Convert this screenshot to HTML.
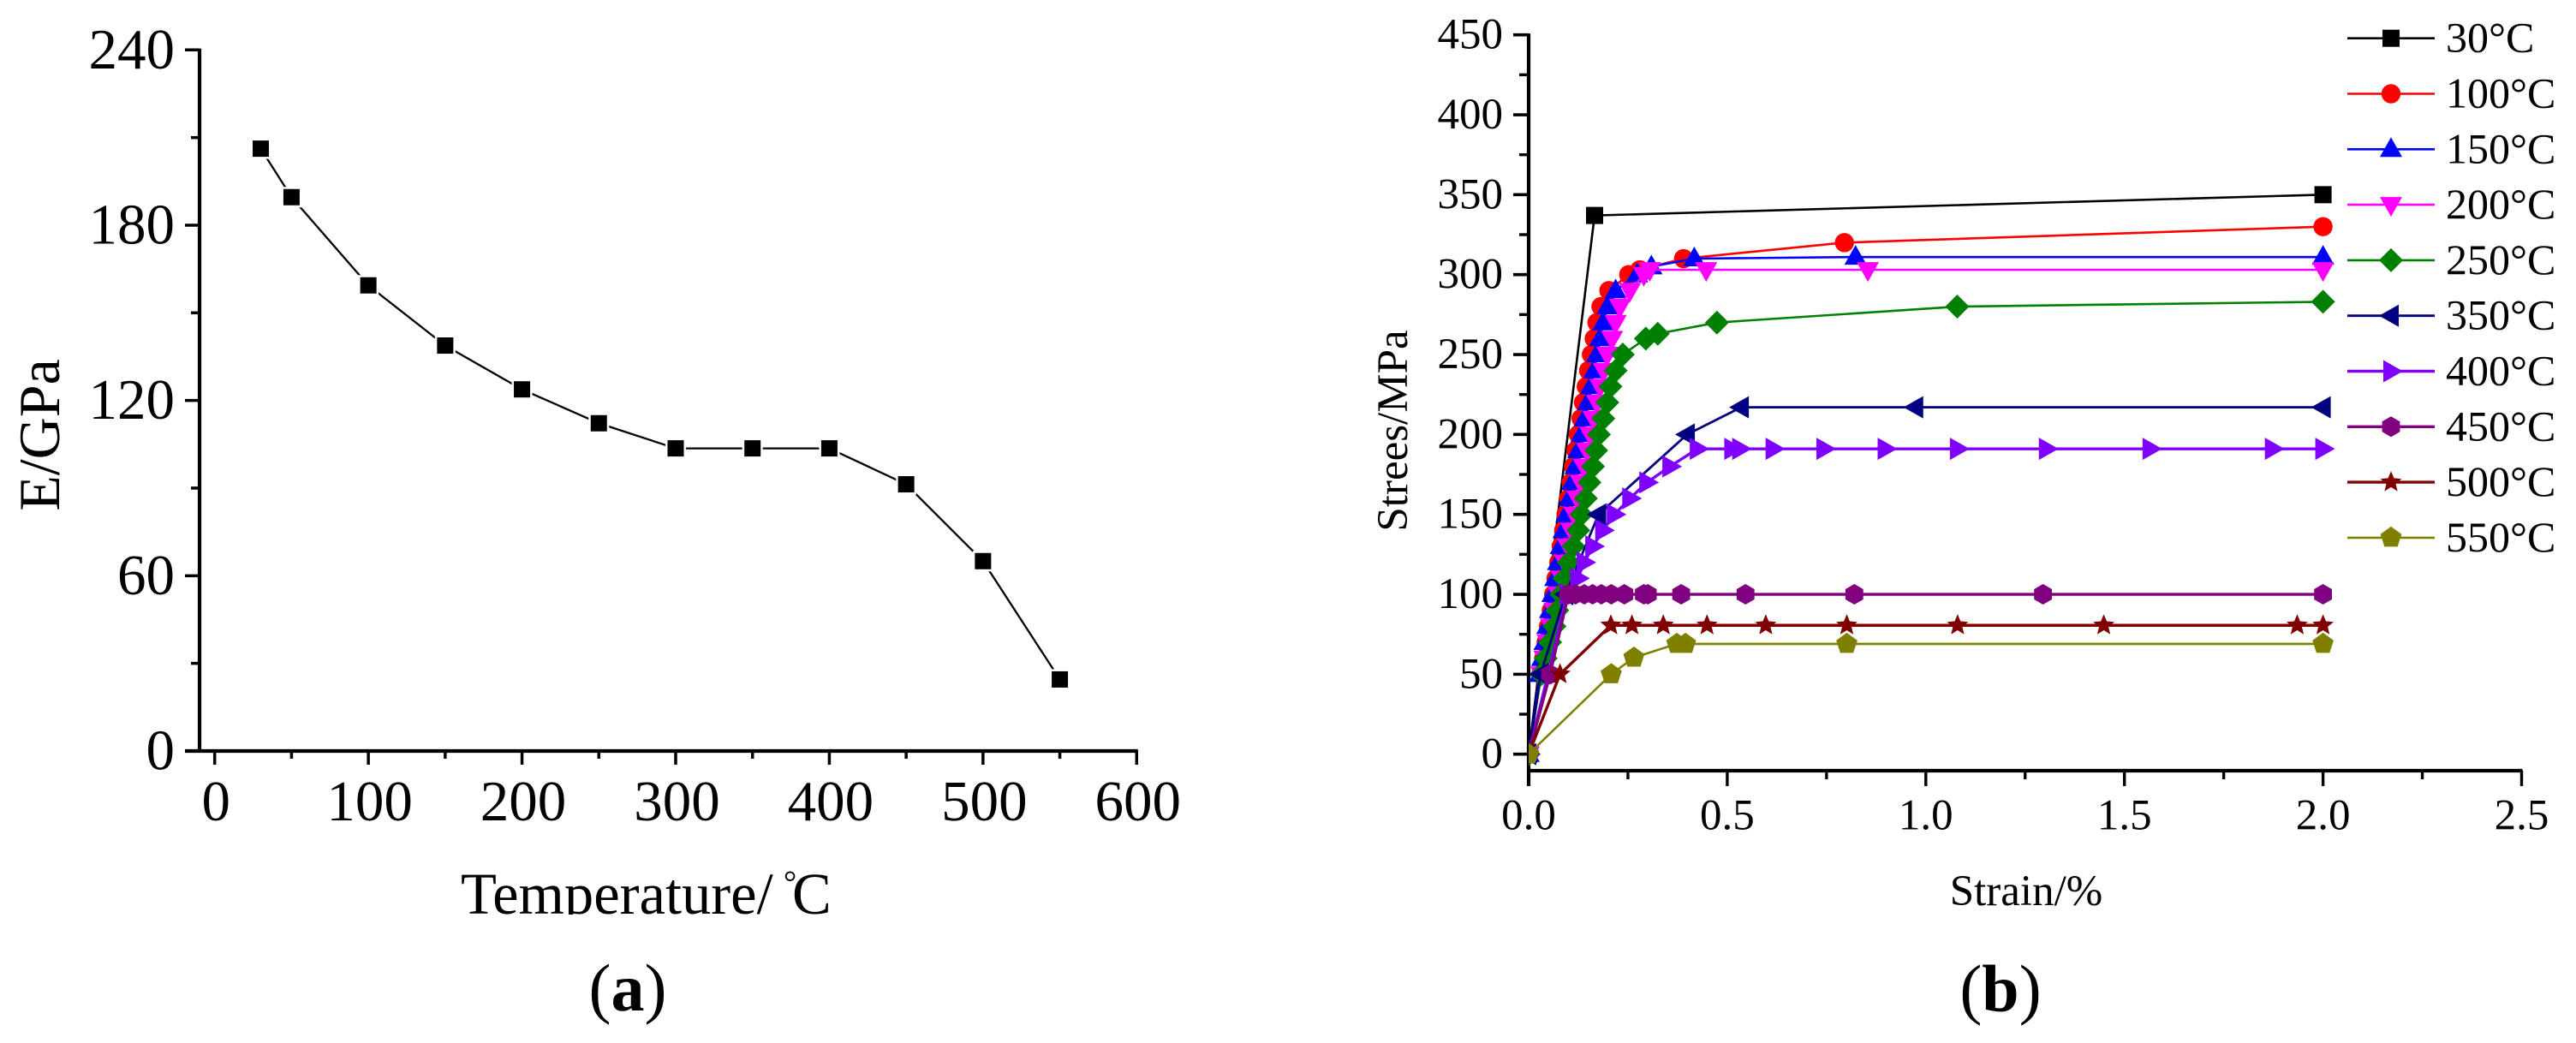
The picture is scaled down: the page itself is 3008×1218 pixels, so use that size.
<!DOCTYPE html>
<html lang="en">
<head>
<meta charset="utf-8">
<title>Elastic modulus and stress-strain curves</title>
<style>
html,body{margin:0;padding:0;background:#fff;}
svg{display:block;}
text{font-family:"Liberation Serif","Noto Serif CJK SC",serif;fill:#000;}
</style>
</head>
<body>
<svg id="fig" xmlns="http://www.w3.org/2000/svg" width="3008" height="1218" viewBox="0 0 3008 1218">
  <defs>
    <clipPath id="clip-title"><rect x="500" y="1000" width="520" height="68"/></clipPath>
    <clipPath id="clip-plot-b"><rect x="1785" y="20" width="1223" height="880"/></clipPath>
  </defs>
  <rect x="0" y="0" width="3008" height="1218" fill="#ffffff"/>
  <g id="panel-a">
    <text x="69" y="508" font-size="68" text-anchor="middle" transform="rotate(-90 69 508)">E/GPa</text>
    <g clip-path="url(#clip-title)">
      <text x="538" y="1067" font-size="68.6">Temperature/<tspan x="915" dy="-24" font-size="38">°</tspan><tspan x="925" dy="24">C</tspan></text>
    </g>
    <text x="733" y="1180" font-size="78" text-anchor="middle">(<tspan font-weight="bold">a</tspan>)</text>
  </g>
  <g id="panel-b">
    <text x="1643" y="503" font-size="51" text-anchor="middle" transform="rotate(-90 1643 503)">Strees/MPa</text>
    <text x="2366" y="1057" font-size="51" text-anchor="middle">Strain/%</text>
    <text x="2336" y="1181" font-size="78" text-anchor="middle">(<tspan font-weight="bold">b</tspan>)</text>
  </g>
</svg>
<script>
/* ---------- panel (a) data ---------- */
const tempValues = [30, 50, 100, 150, 200, 250, 300, 350, 400, 450, 500, 550];
const modulusValues = [206.2, 189.6, 159.4, 138.8, 123.8, 112.2, 103.6, 103.6, 103.6, 91.3, 65, 24.5];
const tempTicks = [0, 100, 200, 300, 400, 500, 600];
const tempMinorTicks = [50, 150, 250, 350, 450, 550];
const modulusTicks = [0, 60, 120, 180, 240];
const modulusMinorTicks = [30, 90, 150, 210];

/* ---------- panel (b) data ---------- */
const strainTickLabels = ['0.0', '0.5', '1.0', '1.5', '2.0', '2.5'];
const strainTicks = [0, 0.5, 1, 1.5, 2, 2.5];
const strainMinorTicks = [0.25, 0.75, 1.25, 1.75, 2.25];
const stressTicks = [0, 50, 100, 150, 200, 250, 300, 350, 400, 450];
const stressMinorTicks = [25, 75, 125, 175, 225, 275, 325, 375, 425];
const seriesLabels = ['30°C', '100°C', '150°C', '200°C', '250°C', '350°C', '400°C', '450°C', '500°C', '550°C'];

const strain30 = [0, 0.166, 2];
const stress30 = [0, 337, 350];

const strain100 = [0, 0.031, 0.038, 0.044, 0.05, 0.057, 0.063, 0.069, 0.076, 0.082, 0.088, 0.094, 0.101, 0.107, 0.113, 0.119, 0.125, 0.132, 0.138, 0.145, 0.151, 0.158, 0.165, 0.172, 0.182, 0.202, 0.252, 0.28, 0.39, 0.795, 2];
const stress100 = [0, 50, 60, 70, 80, 90, 100, 110, 120, 130, 140, 150, 160, 170, 180, 190, 200, 210, 220, 230, 240, 250, 260, 270, 280, 290, 300, 303, 310, 320, 330];

const strain150 = [0, 0.028, 0.034, 0.04, 0.047, 0.054, 0.06, 0.067, 0.074, 0.081, 0.088, 0.095, 0.103, 0.11, 0.118, 0.125, 0.133, 0.141, 0.149, 0.157, 0.165, 0.172, 0.18, 0.188, 0.199, 0.219, 0.273, 0.309, 0.417, 0.823, 2];
const stress150 = [0, 50, 60, 70, 80, 90, 100, 110, 120, 130, 140, 150, 160, 170, 180, 190, 200, 210, 220, 230, 240, 250, 260, 270, 280, 290, 300, 305, 310, 311, 311];

const strain200 = [0, 0.032, 0.04, 0.048, 0.056, 0.065, 0.075, 0.083, 0.091, 0.099, 0.107, 0.115, 0.123, 0.131, 0.139, 0.147, 0.155, 0.163, 0.172, 0.18, 0.189, 0.198, 0.21, 0.219, 0.23, 0.255, 0.29, 0.305, 0.447, 0.854, 2];
const stress200 = [0, 50, 60, 70, 80, 90, 100, 110, 120, 130, 140, 150, 160, 170, 180, 190, 200, 210, 220, 230, 240, 250, 260, 270, 280, 290, 300, 303, 303, 303, 303];

const strain250 = [0, 0.032, 0.043, 0.054, 0.065, 0.072, 0.082, 0.09, 0.101, 0.113, 0.125, 0.133, 0.144, 0.153, 0.162, 0.17, 0.177, 0.188, 0.198, 0.206, 0.219, 0.237, 0.295, 0.325, 0.474, 1.079, 2];
const stress250 = [0, 50, 60, 70, 80, 90, 100, 110, 120, 130, 140, 150, 160, 170, 180, 190, 200, 210, 220, 230, 240, 250, 260, 263, 270, 280, 283];

const strain350 = [0, 0.03, 0.093, 0.176, 0.399, 0.535, 0.974, 2];
const stress350 = [0, 50, 100, 150, 200, 217, 217, 217];

const strain400 = [0, 0.097, 0.124, 0.14, 0.162, 0.187, 0.216, 0.255, 0.298, 0.356, 0.425, 0.512, 0.532, 0.616, 0.744, 0.898, 1.08, 1.304, 1.565, 1.873, 2];
const stress400 = [0, 100, 110, 120, 130, 140, 150, 160, 170, 180, 191, 191, 191, 191, 191, 191, 191, 191, 191, 191, 191];

const strain450 = [0, 0.054, 0.1, 0.118, 0.14, 0.161, 0.183, 0.208, 0.241, 0.29, 0.3, 0.384, 0.546, 0.82, 1.295, 2];
const stress450 = [0, 50, 100, 100, 100, 100, 100, 100, 100, 100, 100, 100, 100, 100, 100, 100];

const strain500 = [0, 0.079, 0.207, 0.26, 0.339, 0.449, 0.597, 0.801, 1.08, 1.448, 1.935, 2];
const stress500 = [0, 50, 80.6, 80.6, 80.6, 80.6, 80.6, 80.6, 80.6, 80.6, 80.6, 80.6];

const strain550 = [0, 0.208, 0.265, 0.373, 0.395, 0.801, 2];
const stress550 = [0, 50, 60.4, 69, 69, 69, 69];

const seriesStrains = [strain30, strain100, strain150, strain200, strain250, strain350, strain400, strain450, strain500, strain550];
const seriesStresses = [stress30, stress100, stress150, stress200, stress250, stress350, stress400, stress450, stress500, stress550];

/* ---------- styling (separate from data) ---------- */
const seriesColors = ['#000000', '#ff0000', '#0000ff', '#ff00ff', '#008000', '#000080', '#8000ff', '#800080', '#800000', '#808000'];
const seriesShapes = ['square', 'circle', 'up', 'down', 'diamond', 'left', 'right', 'hexagon', 'star', 'pentagon'];
const seriesWidths = [2.6, 2.6, 2.6, 2.6, 2.6, 2.8, 3.4, 3.4, 3.4, 2.6];

/* ---------- axis functions ---------- */
const xA = v => 250.7 + v * 1.7943;
const yA = v => 877 - v * 3.4112;
const xB = v => 1785 + v * 463.8;
const yB = v => 880.7 - v * 1.8667;

const NS = 'http://www.w3.org/2000/svg';
const fig = document.getElementById('fig');
const panelA = document.getElementById('panel-a');
const panelB = document.getElementById('panel-b');

function make(parent, tag, attrs, name) {
  const node = document.createElementNS(NS, tag);
  for (const k in attrs) node.setAttribute(k, attrs[k]);
  
  
  parent.appendChild(node);
  return node;
}
function line(parent, x1, y1, x2, y2, color, width, name) {
  return make(parent, 'line', { x1, y1, x2, y2, stroke: color, 'stroke-width': width }, name);
}
function label(parent, str, x, y, size, anchor, name) {
  const t = make(parent, 'text', { x, y, 'font-size': size, 'text-anchor': anchor }, name);
  t.textContent = str;
  return t;
}
function regular(cx, cy, r, n, startDeg) {
  const pts = [];
  for (let i = 0; i < n; i++) {
    const a = (startDeg + i * 360 / n) * Math.PI / 180;
    pts.push((cx + r * Math.cos(a)).toFixed(2) + ',' + (cy + r * Math.sin(a)).toFixed(2));
  }
  return pts.join(' ');
}
function starPoints(cx, cy, R, r) {
  const pts = [];
  for (let i = 0; i < 10; i++) {
    const a = (-90 + i * 36) * Math.PI / 180;
    const q = i % 2 ? r : R;
    pts.push((cx + q * Math.cos(a)).toFixed(2) + ',' + (cy + q * Math.sin(a)).toFixed(2));
  }
  return pts.join(' ');
}
function marker(parent, shape, cx, cy, color, name) {
  let pts = null;
  if (shape === 'square') {
    return make(parent, 'rect', { x: cx - 10, y: cy - 10, width: 20, height: 20, fill: color }, name);
  }
  if (shape === 'circle') {
    return make(parent, 'circle', { cx, cy, r: 11.2, fill: color }, name);
  }
  if (shape === 'up') pts = [[cx, cy - 14], [cx + 13, cy + 9], [cx - 13, cy + 9]].join(' ');
  if (shape === 'down') pts = [[cx, cy + 14], [cx + 13, cy - 9], [cx - 13, cy - 9]].join(' ');
  if (shape === 'left') pts = [[cx - 14, cy], [cx + 9, cy - 13], [cx + 9, cy + 13]].join(' ');
  if (shape === 'right') pts = [[cx + 14, cy], [cx - 9, cy - 13], [cx - 9, cy + 13]].join(' ');
  if (shape === 'diamond') pts = [[cx, cy - 14], [cx + 14, cy], [cx, cy + 14], [cx - 14, cy]].join(' ');
  if (shape === 'hexagon') pts = regular(cx, cy, 12, 6, -90);
  if (shape === 'pentagon') pts = regular(cx, cy, 13, 5, -90);
  if (shape === 'star') pts = starPoints(cx, cy, 13, 5.8);
  return make(parent, 'polygon', { points: pts, fill: color }, name);
}

/* ---------- panel (a) axes ---------- */
line(panelA, 233, yA(240) - 1.5, 233, yA(0), '#000', 4.2, 'y-axis-a');
line(panelA, 216, yA(0), xA(600) + 1.5, yA(0), '#000', 4.2, 'x-axis-a');
modulusTicks.forEach(v => {
  line(panelA, 216, yA(v), 233, yA(v), '#000', 3.5, 'y-tick-a-' + v);
  label(panelA, String(v), 204, yA(v) + 21.5, 67, 'end', 'y-tick-label-a-' + v);
});
modulusMinorTicks.forEach(v => {
  line(panelA, 223, yA(v), 233, yA(v), '#000', 3.5, 'y-minor-tick-a-' + v);
});
tempTicks.forEach(v => {
  line(panelA, xA(v), yA(0), xA(v), 893, '#000', 3.5, 'x-tick-a-' + v);
  label(panelA, String(v), xA(v) + 1.5, 958, 67, 'middle', 'x-tick-label-a-' + v);
});
tempMinorTicks.forEach(v => {
  line(panelA, xA(v), yA(0), xA(v), 886, '#000', 3.5, 'x-minor-tick-a-' + v);
});

/* ---------- panel (a) series ---------- */
const seriesA = make(panelA, 'g', {}, 'series-modulus');
make(seriesA, 'polyline', {
  points: tempValues.map((t, i) => xA(t) + ',' + yA(modulusValues[i])).join(' '),
  fill: 'none', stroke: '#000', 'stroke-width': 2.3
}, 'modulus-line');
tempValues.forEach((t, i) => {
  const cx = xA(t), cy = yA(modulusValues[i]);
  make(seriesA, 'rect', { x: cx - 12, y: cy - 12, width: 24, height: 24, fill: '#fff' }, 'modulus-point-gap-' + t);
  make(seriesA, 'rect', { x: cx - 9.5, y: cy - 9.5, width: 19, height: 19, fill: '#000' }, 'modulus-point-' + t);
});

/* ---------- panel (b) axes ---------- */
line(panelB, 1785, yB(450) - 1.5, 1785, 918, '#000', 4.2, 'y-axis-b');
line(panelB, 1785, 900, xB(2.5) + 1, 900, '#000', 4.2, 'x-axis-b');
stressTicks.forEach(v => {
  line(panelB, 1767, yB(v), 1785, yB(v), '#000', 3.6, 'y-tick-b-' + v);
  label(panelB, String(v), 1755, yB(v) + 16, 51, 'end', 'y-tick-label-b-' + v);
});
stressMinorTicks.forEach(v => {
  line(panelB, 1774, yB(v), 1785, yB(v), '#000', 3.4, 'y-minor-tick-b-' + v);
});
strainTicks.forEach((v, i) => {
  line(panelB, xB(v), 900, xB(v), 918, '#000', 3.4, 'x-tick-b-' + i);
  label(panelB, strainTickLabels[i], xB(v), 968.5, 51, 'middle', 'x-tick-label-b-' + i);
});
strainMinorTicks.forEach((v, i) => {
  line(panelB, xB(v), 900, xB(v), 910, '#000', 3.4, 'x-minor-tick-b-' + i);
});

/* ---------- panel (b) series ---------- */
seriesLabels.forEach((name, s) => {
  const group = make(panelB, 'g', { 'clip-path': 'url(#clip-plot-b)' }, 'series-' + parseInt(name, 10));
  const xs = seriesStrains[s], ys = seriesStresses[s];
  make(group, 'polyline', {
    points: xs.map((x, i) => xB(x) + ',' + yB(ys[i])).join(' '),
    fill: 'none', stroke: seriesColors[s], 'stroke-width': seriesWidths[s]
  }, 'line-' + parseInt(name, 10));
  xs.forEach((x, i) => {
    marker(group, seriesShapes[s], xB(x), yB(ys[i]), seriesColors[s], 'point-' + parseInt(name, 10) + '-' + i);
  });
});

/* ---------- panel (b) legend ---------- */
const legend = make(panelB, 'g', {}, 'legend');
seriesLabels.forEach((name, s) => {
  const rowY = 44.7 + s * 64.8;
  const key = parseInt(name, 10);
  const entry = make(legend, 'g', {}, 'legend-entry-' + key);
  line(entry, 2741, rowY, 2843, rowY, seriesColors[s], seriesWidths[s], 'legend-line-' + key);
  marker(entry, seriesShapes[s], 2792, rowY, seriesColors[s], 'legend-marker-' + key);
  label(entry, name, 2856, rowY + 16, 50, 'start', 'legend-label-' + key);
});
</script>
</body>
</html>
